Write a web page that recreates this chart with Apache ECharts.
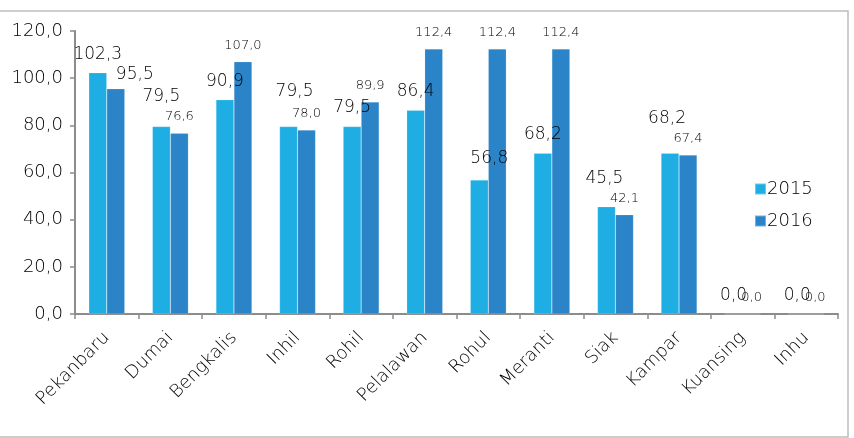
<!DOCTYPE html>
<html>
<head>
<meta charset="utf-8">
<script src="https://cdn.jsdelivr.net/npm/echarts@6/dist/echarts.min.js"></script>
<style>
html,body{margin:0;padding:0;background:#fff;}
#chart{width:854px;height:438px;}
</style>
</head>
<body>
<div id="chart"></div>
<script>
var categories = ['Pekanbaru','Dumai','Bengkalis','Inhil','Rohil','Pelalawan','Rohul','Meranti','Siak','Kampar','Kuansing','Inhu'];
var values2015 = [102.3, 79.5, 90.9, 79.5, 79.5, 86.4, 56.8, 68.2, 45.5, 68.2, 0.0, 0.0];
var values2016 = [95.5, 76.6, 107.0, 78.0, 89.9, 112.4, 112.4, 112.4, 42.1, 67.4, 0.0, 0.0];
var seriesNames = ['2015', '2016'];
var yTicks = [0, 20, 40, 60, 80, 100, 120];

var FONT = 'DejaVu Sans';
var W = 200;
function fmt(v){ return Number(v).toFixed(1).replace('.', ','); }

// label placement tweaks (style only), as in the original hand-placed labels
var labelTweak2015 = {1:[0,-11], 3:[6,-16], 6:[10,-3], 8:[-2,-10], 9:[-3,-16]};

var chart = echarts.init(document.getElementById('chart'), null, {renderer:'canvas'});

var data2015 = values2015.map(function(v, i){
  var t = labelTweak2015[i];
  return t ? {value:v, label:{offset:t}} : {value:v};
});
var data2016 = values2016.map(function(v, i){
  if (i === 0) return {value:v, label:{fontSize:17, offset:[19, 0], distance:6}};
  return {value:v};
});

chart.setOption({
  animation:false,
  color:['#1FAEE3', '#2A84C7'],
  graphic:[{
    type:'rect', shape:{x:-2, y:11, width:850, height:426},
    style:{fill:'none', stroke:'#BDBDBD', lineWidth:1.5}, silent:true, z:-1
  }],
  legend:{
    orient:'vertical', left:749, top:175, itemGap:14,
    itemWidth:11, itemHeight:11, icon:'rect',
    data:seriesNames,
    textStyle:{fontFamily:FONT, fontWeight:W, fontSize:18, color:'#000', padding:[0,0,0,-4]}
  },
  grid:{left:75, right:16, top:31, bottom:124, containLabel:false},
  xAxis:{
    type:'category', data:categories,
    axisLine:{lineStyle:{color:'#8C8C8C', width:2}},
    axisTick:{show:true, length:5, lineStyle:{color:'#8C8C8C', width:1.5}},
    axisLabel:{rotate:45, margin:21, interval:0, fontFamily:FONT, fontWeight:W, fontSize:18, color:'#000'},
    splitLine:{show:false}
  },
  yAxis:{
    type:'value', min:yTicks[0], max:yTicks[yTicks.length-1], interval:yTicks[1]-yTicks[0],
    axisLine:{show:true, lineStyle:{color:'#8C8C8C', width:2}},
    axisTick:{show:true, length:5, lineStyle:{color:'#8C8C8C', width:1.5}},
    axisLabel:{margin:12, fontFamily:FONT, fontWeight:W, fontSize:18, color:'#000', formatter:fmt},
    splitLine:{show:false}
  },
  series:[
    {
      name:seriesNames[0], type:'bar', data:data2015, barWidth:18, barGap:'0%',
      itemStyle:{borderColor:'rgba(255,255,255,0.35)', borderWidth:0.5},
      label:{show:true, position:'top', distance:10, fontFamily:FONT, fontWeight:W, fontSize:17, color:'#000', formatter:function(p){return fmt(p.value);}}
    },
    {
      name:seriesNames[1], type:'bar', data:data2016, barWidth:18, barGap:'0%',
      itemStyle:{borderColor:'rgba(255,255,255,0.35)', borderWidth:0.5},
      label:{show:true, position:'top', distance:10, fontFamily:FONT, fontWeight:W, fontSize:13, color:'#000', formatter:function(p){return fmt(p.value);}}
    }
  ]
});
</script>
</body>
</html>
